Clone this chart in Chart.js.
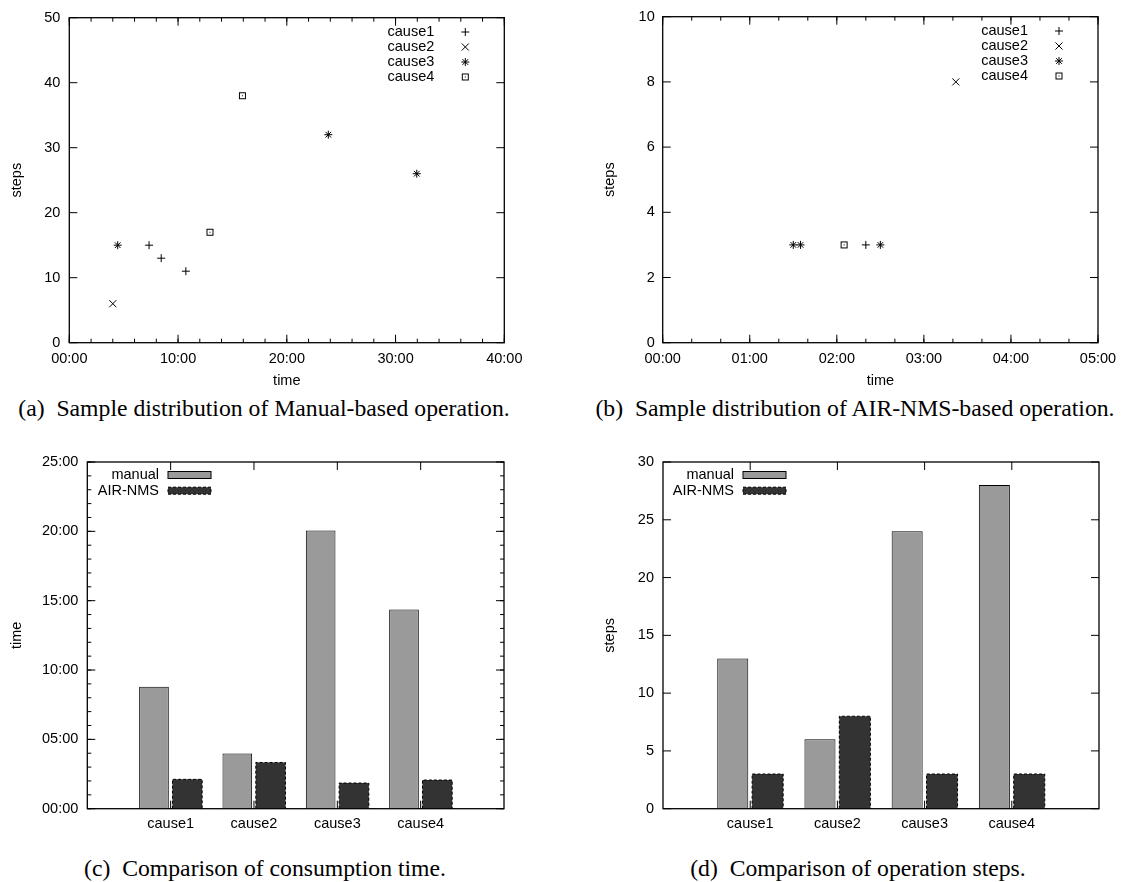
<!DOCTYPE html>
<html>
<head>
<meta charset="utf-8">
<script src="https://cdn.jsdelivr.net/npm/chart.js"></script>
<style>
  body { margin: 0; background: #fff; width: 1125px; height: 882px; position: relative; overflow: hidden; }
  canvas { position: absolute; }
  .cap { position: absolute; font-family: 'Liberation Serif', 'Times New Roman', serif; font-size: 23.7px; line-height: 24px; color: #000; white-space: pre; text-align: center; width: 600px; }
</style>
</head>
<body>
<canvas id="chartA" width="560" height="395" style="left:0;top:0"></canvas>
<canvas id="chartB" width="565" height="395" style="left:560px;top:0"></canvas>
<canvas id="chartC" width="560" height="410" style="left:0;top:430px"></canvas>
<canvas id="chartD" width="565" height="410" style="left:560px;top:430px"></canvas>
<div class="cap" style="left:-36px;top:396px">(a)  Sample distribution of Manual-based operation.</div>
<div class="cap" style="left:555px;top:396px">(b)  Sample distribution of AIR-NMS-based operation.</div>
<div class="cap" style="left:-35px;top:856px">(c)  Comparison of consumption time.</div>
<div class="cap" style="left:558px;top:856px">(d)  Comparison of operation steps.</div>
<script>
// (a) manual operation samples: [time in seconds, steps]
const manualCause1 = [[440, 15], [507, 13], [643, 11]];
const manualCause2 = [[240, 6]];
const manualCause3 = [[267, 15], [1429, 32], [1917, 26]];
const manualCause4 = [[776, 17], [955, 38]];

// (b) AIR-NMS operation samples
const airCause1 = [[140, 3]];
const airCause2 = [[202, 8]];
const airCause3 = [[90, 3], [95, 3], [150, 3]];
const airCause4 = [[125, 3]];

// (c) / (d) averages per cause
const causes = ['cause1', 'cause2', 'cause3', 'cause4'];
const manualTime = [528, 239, 1204, 862];
const airTime = [127, 200, 111, 124];
const manualSteps = [13, 6, 24, 28];
const airSteps = [3, 8, 3, 3];

const font = { family: 'Liberation Sans', size: 14.5 };
Chart.defaults.font.family = 'Liberation Sans';
Chart.defaults.color = '#000';

function pad2(n) { return String(n).padStart(2, '0'); }
function mmss(v) { return pad2(Math.floor(v / 60)) + ':' + pad2(Math.round(v % 60)); }
function pts(arr) { return arr.map(p => ({ x: p[0], y: p[1] })); }

// open square with a dot in the middle (gnuplot point type 4)
function boxMarker() {
  const c = document.createElement('canvas');
  c.width = 9; c.height = 9;
  const g = c.getContext('2d');
  g.strokeStyle = '#000'; g.lineWidth = 1;
  g.strokeRect(1.5, 1.5, 6, 6);
  g.fillStyle = '#000';
  g.fillRect(4, 4, 1, 1);
  return c;
}
const squareDot = boxMarker();

// frame + inward ticks on all four sides, gnuplot style
const gnuFrame = {
  id: 'gnuFrame',
  afterDatasetsDraw(chart, args, o) {
    const { ctx, chartArea: a, scales: { x, y } } = chart;
    const major = 8, minor = 4;
    ctx.save();
    ctx.strokeStyle = '#000';
    ctx.lineWidth = 1;
    ctx.beginPath();
    const xt = (v, len) => {
      const px = x.getPixelForValue(v);
      ctx.moveTo(px, a.bottom); ctx.lineTo(px, a.bottom - len);
      ctx.moveTo(px, a.top); ctx.lineTo(px, a.top + len);
    };
    const yt = (v, len) => {
      const py = y.getPixelForValue(v);
      ctx.moveTo(a.left, py); ctx.lineTo(a.left + len, py);
      ctx.moveTo(a.right, py); ctx.lineTo(a.right - len, py);
    };
    x.ticks.forEach(t => { if (t.label !== '') xt(t.value, major); });
    y.ticks.forEach(t => yt(t.value, major));
    if (o.xMinor) for (let v = x.min; v <= x.max; v += o.xMinor) xt(v, minor);
    if (o.yMinor) for (let v = y.min; v <= y.max; v += o.yMinor) yt(v, minor);
    ctx.stroke();
    ctx.lineWidth = 1.3;
    ctx.strokeRect(a.left, a.top, a.right - a.left, a.bottom - a.top);
    ctx.restore();
  }
};

// dashed outline for the AIR-NMS bars
const dashedBars = {
  id: 'dashedBars',
  afterDatasetsDraw(chart) {
    const { ctx } = chart;
    chart.data.datasets.forEach((ds, i) => {
      if (!ds.dashed) return;
      ctx.save();
      ctx.strokeStyle = '#000';
      ctx.lineWidth = 1;
      ctx.setLineDash([3, 2]);
      chart.getDatasetMeta(i).data.forEach(el => {
        const { x, y, base, width } = el.getProps(['x', 'y', 'base', 'width'], true);
        ctx.beginPath();
        ctx.moveTo(x - width / 2, base);
        ctx.lineTo(x - width / 2, y);
        ctx.lineTo(x + width / 2, y);
        ctx.lineTo(x + width / 2, base);
        ctx.stroke();
      });
      ctx.restore();
    });
  }
};

// key drawn inside the plot: label right aligned, sample to its right
const gnuKey = {
  id: 'gnuKey',
  afterDraw(chart, args, o) {
    const { ctx, chartArea: a } = chart;
    const fromLeft = o.anchor === 'left';
    const textRight = fromLeft ? a.left + o.textX : a.right - o.textX;
    const symX = fromLeft ? a.left + o.symX : a.right - o.symX;
    ctx.save();
    ctx.font = font.size + 'px ' + font.family;
    ctx.fillStyle = '#000';
    ctx.textAlign = 'right';
    ctx.textBaseline = 'middle';
    chart.data.datasets.forEach((ds, i) => {
      const yy = a.top + o.top + i * o.gap;
      ctx.fillText(ds.label, textRight, yy);
      if (o.type === 'point') {
        ctx.strokeStyle = '#000';
        ctx.fillStyle = '#000';
        ctx.lineWidth = 1;
        Chart.helpers.drawPoint(ctx, { pointStyle: ds.pointStyle, radius: ds.pointRadius, rotation: 0, borderWidth: 1 }, symX, yy);
        ctx.fillStyle = '#000';
      } else {
        const w = o.boxW, h = 7;
        ctx.fillStyle = ds.backgroundColor;
        ctx.fillRect(symX, yy - h / 2, w, h);
        ctx.strokeStyle = '#000';
        ctx.lineWidth = 1;
        if (ds.dashed) ctx.setLineDash([3, 2]);
        ctx.strokeRect(symX, yy - h / 2, w, h);
        ctx.setLineDash([]);
        ctx.fillStyle = '#000';
      }
    });
    ctx.restore();
  }
};

function scatterSets(c1, c2, c3, c4) {
  const base = { borderColor: '#000', backgroundColor: '#000', borderWidth: 1, pointBorderWidth: 1 };
  return [
    Object.assign({ label: 'cause1', data: pts(c1), pointStyle: 'cross', pointRadius: 4 }, base),
    Object.assign({ label: 'cause2', data: pts(c2), pointStyle: 'crossRot', pointRadius: 5 }, base),
    Object.assign({ label: 'cause3', data: pts(c3), pointStyle: 'star', pointRadius: 4 }, base),
    Object.assign({ label: 'cause4', data: pts(c4), pointStyle: squareDot, pointRadius: 4 }, base)
  ];
}

function scatterChart(id, sets, xMax, xStep, xMinor, yMax, yStep, geo) {
  return new Chart(document.getElementById(id), {
    type: 'scatter',
    data: { datasets: sets },
    plugins: [gnuFrame, gnuKey],
    options: {
      responsive: false,
      animation: false,
      devicePixelRatio: 1,
      layout: { padding: { top: 14, right: geo.right, left: 0, bottom: 0 } },
      plugins: {
        legend: { display: false },
        tooltip: { enabled: false },
        gnuFrame: { xMinor: xMinor },
        gnuKey: { type: 'point', anchor: 'right', textX: 70, symX: 39, top: 14.3, gap: 15 }
      },
      scales: {
        x: {
          type: 'linear', min: 0, max: xMax,
          ticks: { stepSize: xStep, callback: mmss, padding: 8, maxRotation: 0, autoSkip: false, font: font, color: '#000' },
          grid: { display: false, drawTicks: false },
          border: { display: false },
          title: { display: true, text: 'time', font: font, color: '#000', padding: { top: 0, bottom: 5.3 } },
          afterFit: s => { s.height = 52.3; }
        },
        y: {
          min: 0, max: yMax,
          ticks: { stepSize: yStep, padding: geo.yPad, font: font, color: '#000' },
          grid: { display: false, drawTicks: false },
          border: { display: false },
          title: { display: true, text: 'steps', font: font, color: '#000', padding: { top: geo.titleX, bottom: 0 } },
          afterFit: s => { s.width = geo.left; }
        }
      }
    }
  });
}

function barChart(id, manual, air, yMax, yStep, yMinor, yFmt, yTitle, geo) {
  return new Chart(document.getElementById(id), {
    type: 'bar',
    data: {
      datasets: [
        { label: 'manual', data: manual.map((v, i) => ({ x: i + 1, y: v })), backgroundColor: '#9a9a9a', borderColor: '#000', borderWidth: 1, categoryPercentage: 0.8, barPercentage: 0.89 },
        { label: 'AIR-NMS', data: air.map((v, i) => ({ x: i + 1, y: v })), backgroundColor: '#333333', borderWidth: 0, dashed: true, categoryPercentage: 0.8, barPercentage: 0.89 }
      ]
    },
    plugins: [dashedBars, gnuFrame, gnuKey],
    options: {
      responsive: false,
      animation: false,
      devicePixelRatio: 1,
      layout: { padding: { top: 32, right: geo.right, left: 0, bottom: 0 } },
      plugins: {
        legend: { display: false },
        tooltip: { enabled: false },
        gnuFrame: { yMinor: yMinor },
        gnuKey: { type: 'box', anchor: 'left', textX: geo.keyText, symX: geo.keyText + 9, boxW: 43, top: 13, gap: 15.7 }
      },
      scales: {
        x: {
          type: 'linear', min: 0, max: causes.length + 1, offset: false,
          ticks: { stepSize: 1, callback: v => causes[v - 1] || '', padding: 7, maxRotation: 0, autoSkip: false, font: font, color: '#000' },
          grid: { display: false, drawTicks: false, offset: false },
          border: { display: false },
          afterFit: s => { s.height = 31.3; }
        },
        y: {
          min: 0, max: yMax,
          ticks: { stepSize: yStep, callback: yFmt, padding: 9, font: font, color: '#000' },
          grid: { display: false, drawTicks: false },
          border: { display: false },
          title: { display: true, text: yTitle, font: font, color: '#000', padding: { top: geo.titleX, bottom: 0 } },
          afterFit: s => { s.width = geo.left; }
        }
      }
    }
  });
}

scatterChart('chartA', scatterSets(manualCause1, manualCause2, manualCause3, manualCause4),
  2400, 600, 120, 50, 10, { left: 69.3, right: 55.7, yPad: 9, titleX: 8.3 });
scatterChart('chartB', scatterSets(airCause1, airCause2, airCause3, airCause4),
  300, 60, 20, 10, 2, { left: 102.7, right: 27, yPad: 8, titleX: 41.7 });
barChart('chartC', manualTime, airTime, 1500, 300, 60, mmss, 'time',
  { left: 87.3, right: 56, titleX: 8.3, keyText: 71.7 });
barChart('chartD', manualSteps, airSteps, 30, 5, 0, v => v, 'steps',
  { left: 103, right: 26, titleX: 41.7, keyText: 71 });
</script>
</body>
</html>
